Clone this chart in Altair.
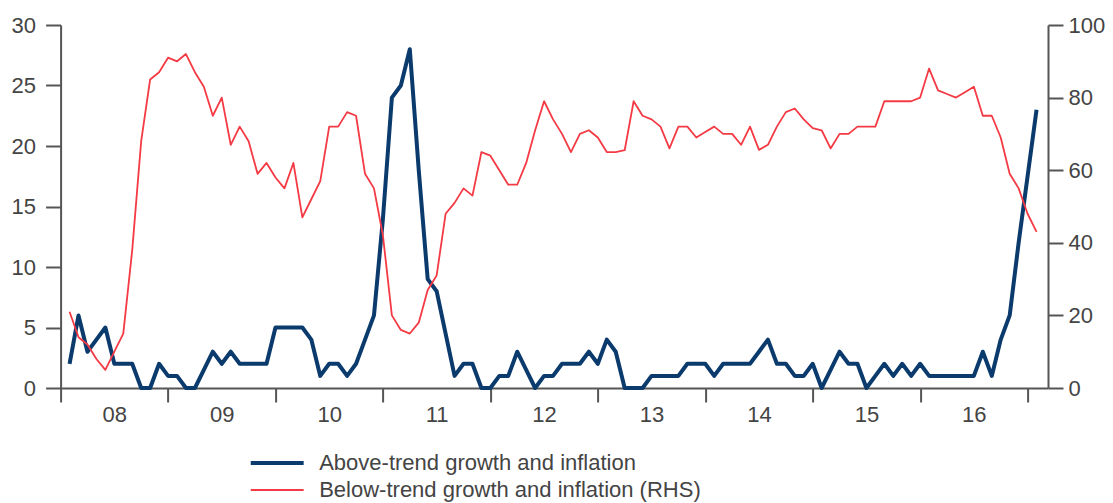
import altair as alt
import pandas as pd

# Monthly observations, Feb 2008 .. Feb 2017
start_year = 2008
start_month = 2

above = [2, 6, 3, 4, 5, 2, 2, 2, 0, 0,
         2, 1, 1, 0, 0, 1.5, 3, 2, 3, 2,
         2, 2, 2, 5, 5, 5, 5, 4, 1, 2,
         2, 1, 2, 4, 6, 14, 24, 25, 28, 18,
         9, 8, 4.5, 1, 2, 2, 0, 0, 1, 1,
         3, 1.5, 0, 1, 1, 2, 2, 2, 3, 2,
         4, 3, 0, 0, 0, 1, 1, 1, 1, 2,
         2, 2, 1, 2, 2, 2, 2, 3, 4, 2,
         2, 1, 1, 2, 0, 1.5, 3, 2, 2, 0,
         1, 2, 1, 2, 1, 2, 1, 1, 1, 1,
         1, 1, 3, 1, 4, 6, 12, 17.5, 23]

below = [21, 14, 12, 8, 5, 10, 15, 38, 68, 85,
         87, 91, 90, 92, 87, 83, 75, 80, 67, 72,
         68, 59, 62, 58, 55, 62, 47, 52, 57, 72,
         72, 76, 75, 59, 55, 42, 20, 16, 15, 18,
         27, 31, 48, 51, 55, 53, 65, 64, 60, 56,
         56, 62, 71, 79, 74, 70, 65, 70, 71, 69,
         65, 65, 65.5, 79, 75, 74, 72, 66, 72, 72,
         69, 70.5, 72, 70, 70, 67, 72, 65.6, 67, 72,
         76, 77, 74, 71.6, 71, 66, 70, 70, 72, 72,
         72, 79, 79, 79, 79, 80, 88, 82, 81, 80,
         81.5, 83, 75, 75, 69, 59, 55, 48, 43]

series_names = ["Above-trend growth and inflation",
                "Below-trend growth and inflation (RHS)"]
series_colors = ["#0b3a6d", "#f43a44"]
series_widths = [4, 1.8]
year_ticks = list(range(2008, 2018))
left_ticks = [0, 5, 10, 15, 20, 25, 30]
right_ticks = [0, 20, 40, 60, 80, 100]

n = len(above)
t = [start_year + (start_month - 1 + i) / 12 for i in range(n)]
df = pd.DataFrame({
    "t": t + t,
    "value": above + below,
    "series": [series_names[0]] * n + [series_names[1]] * n,
})

FONT = "Liberation Sans"

legend = alt.Legend(
    title=None, orient="none", legendX=205.6, legendY=427,
    symbolType="M-5,0H5", symbolSize=112, labelFontSize=22,
    labelColor="#444444", labelFont=FONT, rowPadding=5, labelOffset=31,
    padding=0, labelLimit=600,
)

x = alt.X(
    "t:Q",
    scale=alt.Scale(domain=[2008, 2017.19], nice=False, zero=False),
    axis=alt.Axis(
        values=year_ticks,
        labelExpr="datum.value < 2017 ? substring(toString(datum.value), 2, 4) : ''",
        labelOffset=53.7, labelFlush=False, tickSize=14, labelPadding=2,
        grid=False, title=None,
    ),
)
color = alt.Color("series:N",
                  scale=alt.Scale(domain=series_names, range=series_colors),
                  legend=legend)
sw = alt.StrokeWidth("series:N",
                     scale=alt.Scale(domain=series_names, range=series_widths),
                     legend=legend)

base = alt.Chart(df)

blue = base.transform_filter(
    alt.datum.series == series_names[0]
).mark_line(strokeJoin="round").encode(
    x=x,
    y=alt.Y("value:Q", scale=alt.Scale(domain=[0, 30], nice=False),
            axis=alt.Axis(orient="left", values=left_ticks, tickSize=15,
                          labelPadding=10, grid=False, title=None)),
    color=color,
    strokeWidth=sw,
)

red = base.transform_filter(
    alt.datum.series == series_names[1]
).mark_line(strokeJoin="round").encode(
    x=x,
    y=alt.Y("value:Q", scale=alt.Scale(domain=[0, 100], nice=False),
            axis=alt.Axis(orient="right", values=right_ticks, tickSize=15,
                          labelPadding=5, grid=False, title=None)),
    color=color,
    strokeWidth=sw,
)

chart = alt.layer(blue, red).resolve_scale(y="independent").properties(
    width=987.4, height=363,
    autosize=alt.AutoSizeParams(type="none"),
    padding={"left": 52.6, "top": 17, "right": 57, "bottom": 117},
    background="white",
).configure_view(stroke=None).configure_axis(
    domainColor="#555555", domainWidth=2, tickColor="#555555", tickWidth=2,
    labelFont=FONT, labelFontSize=22, labelColor="#444444",
)

chart.save("out.html", embed_options={"renderer": "svg", "actions": False})
